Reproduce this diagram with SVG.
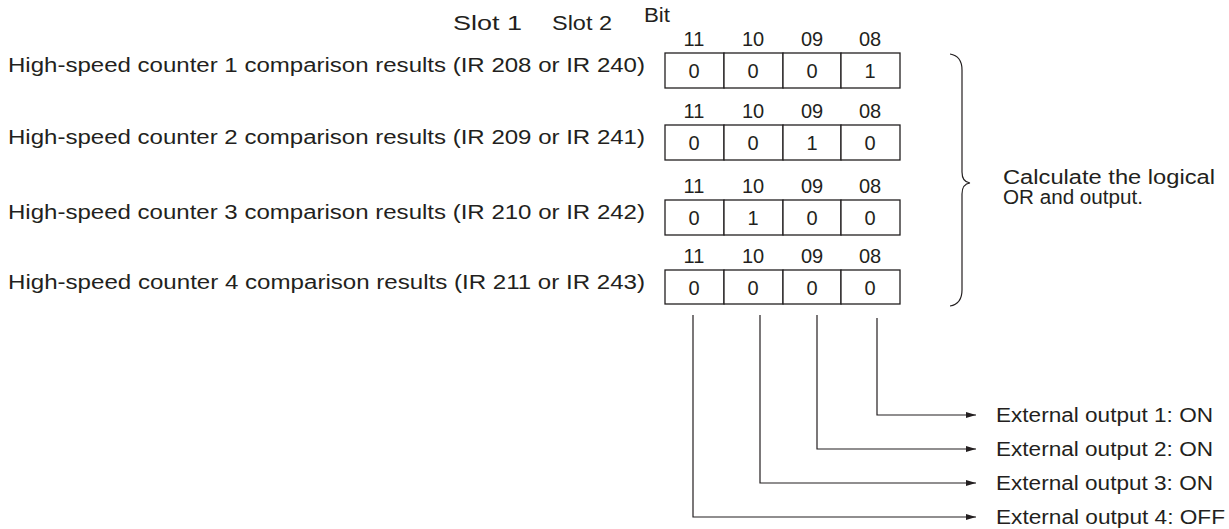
<svg xmlns="http://www.w3.org/2000/svg" width="1229" height="529" viewBox="0 0 1229 529">
<style>
text{font-family:"Liberation Sans",Arial,sans-serif;font-size:20px;fill:#231f20}
.c{text-anchor:middle}
rect{fill:#fff;stroke:#231f20;stroke-width:1.3}
.ln{fill:none;stroke:#231f20;stroke-width:1.2}
</style>
<defs><marker id="a" markerWidth="10" markerHeight="6" refX="10" refY="3" orient="auto" markerUnits="userSpaceOnUse"><path d="M0,0 L10,3 L0,6z" fill="#231f20"/></marker></defs>
<rect x="0" y="0" width="1229" height="529" style="stroke:none"/>
<text x="453" y="30" textLength="69" lengthAdjust="spacingAndGlyphs">Slot 1</text>
<text x="552" y="30" textLength="60" lengthAdjust="spacingAndGlyphs">Slot 2</text>
<text x="644" y="22" textLength="26" lengthAdjust="spacingAndGlyphs">Bit</text>
<g id="labels">
<text x="8" y="72" textLength="637" lengthAdjust="spacingAndGlyphs">High-speed counter 1 comparison results (IR 208 or IR 240)</text>
<text x="8" y="144" textLength="637" lengthAdjust="spacingAndGlyphs">High-speed counter 2 comparison results (IR 209 or IR 241)</text>
<text x="8" y="219" textLength="637" lengthAdjust="spacingAndGlyphs">High-speed counter 3 comparison results (IR 210 or IR 242)</text>
<text x="8" y="289" textLength="637" lengthAdjust="spacingAndGlyphs">High-speed counter 4 comparison results (IR 211 or IR 243)</text>
</g>
<g id="reg1">
<text x="694" y="46" class="c">11</text><text x="753" y="46" class="c">10</text><text x="812" y="46" class="c">09</text><text x="870" y="46" class="c">08</text>
<rect x="665" y="53" width="59" height="35"/><rect x="724" y="53" width="59" height="35"/><rect x="783" y="53" width="58" height="35"/><rect x="841" y="53" width="59" height="35"/>
<text x="694" y="78" class="c">0</text><text x="753" y="78" class="c">0</text><text x="812" y="78" class="c">0</text><text x="870" y="78" class="c">1</text>
</g>
<g id="reg2">
<text x="694" y="118" class="c">11</text><text x="753" y="118" class="c">10</text><text x="812" y="118" class="c">09</text><text x="870" y="118" class="c">08</text>
<rect x="665" y="125" width="59" height="35"/><rect x="724" y="125" width="59" height="35"/><rect x="783" y="125" width="58" height="35"/><rect x="841" y="125" width="59" height="35"/>
<text x="694" y="150" class="c">0</text><text x="753" y="150" class="c">0</text><text x="812" y="150" class="c">1</text><text x="870" y="150" class="c">0</text>
</g>
<g id="reg3">
<text x="694" y="193" class="c">11</text><text x="753" y="193" class="c">10</text><text x="812" y="193" class="c">09</text><text x="870" y="193" class="c">08</text>
<rect x="665" y="200" width="59" height="35"/><rect x="724" y="200" width="59" height="35"/><rect x="783" y="200" width="58" height="35"/><rect x="841" y="200" width="59" height="35"/>
<text x="694" y="225" class="c">0</text><text x="753" y="225" class="c">1</text><text x="812" y="225" class="c">0</text><text x="870" y="225" class="c">0</text>
</g>
<g id="reg4">
<text x="694" y="263" class="c">11</text><text x="753" y="263" class="c">10</text><text x="812" y="263" class="c">09</text><text x="870" y="263" class="c">08</text>
<rect x="665" y="270" width="59" height="34"/><rect x="724" y="270" width="59" height="34"/><rect x="783" y="270" width="58" height="34"/><rect x="841" y="270" width="59" height="34"/>
<text x="694" y="295" class="c">0</text><text x="753" y="295" class="c">0</text><text x="812" y="295" class="c">0</text><text x="870" y="295" class="c">0</text>
</g>
<g id="brace">
<path class="ln" d="M950,54 Q962,56 962,70 L962,172 Q962,182 970,183 Q962,184 962,194 L962,290 Q962,304 950,306"/>
<text x="1003" y="184" textLength="212" lengthAdjust="spacingAndGlyphs">Calculate the logical</text>
<text x="1003" y="204" textLength="140" lengthAdjust="spacingAndGlyphs">OR and output.</text>
</g>
<g id="connectors">
<path class="ln" d="M877,318 V415 H976" marker-end="url(#a)"/>
<path class="ln" d="M817,315 V449 H976" marker-end="url(#a)"/>
<path class="ln" d="M760,315 V483 H976" marker-end="url(#a)"/>
<path class="ln" d="M693,315 V517 H976" marker-end="url(#a)"/>
</g>
<g id="outputs">
<text x="996" y="422" textLength="217" lengthAdjust="spacingAndGlyphs">External output 1: ON</text>
<text x="996" y="456" textLength="217" lengthAdjust="spacingAndGlyphs">External output 2: ON</text>
<text x="996" y="490" textLength="217" lengthAdjust="spacingAndGlyphs">External output 3: ON</text>
<text x="996" y="524" textLength="229" lengthAdjust="spacingAndGlyphs">External output 4: OFF</text>
</g>
</svg>
